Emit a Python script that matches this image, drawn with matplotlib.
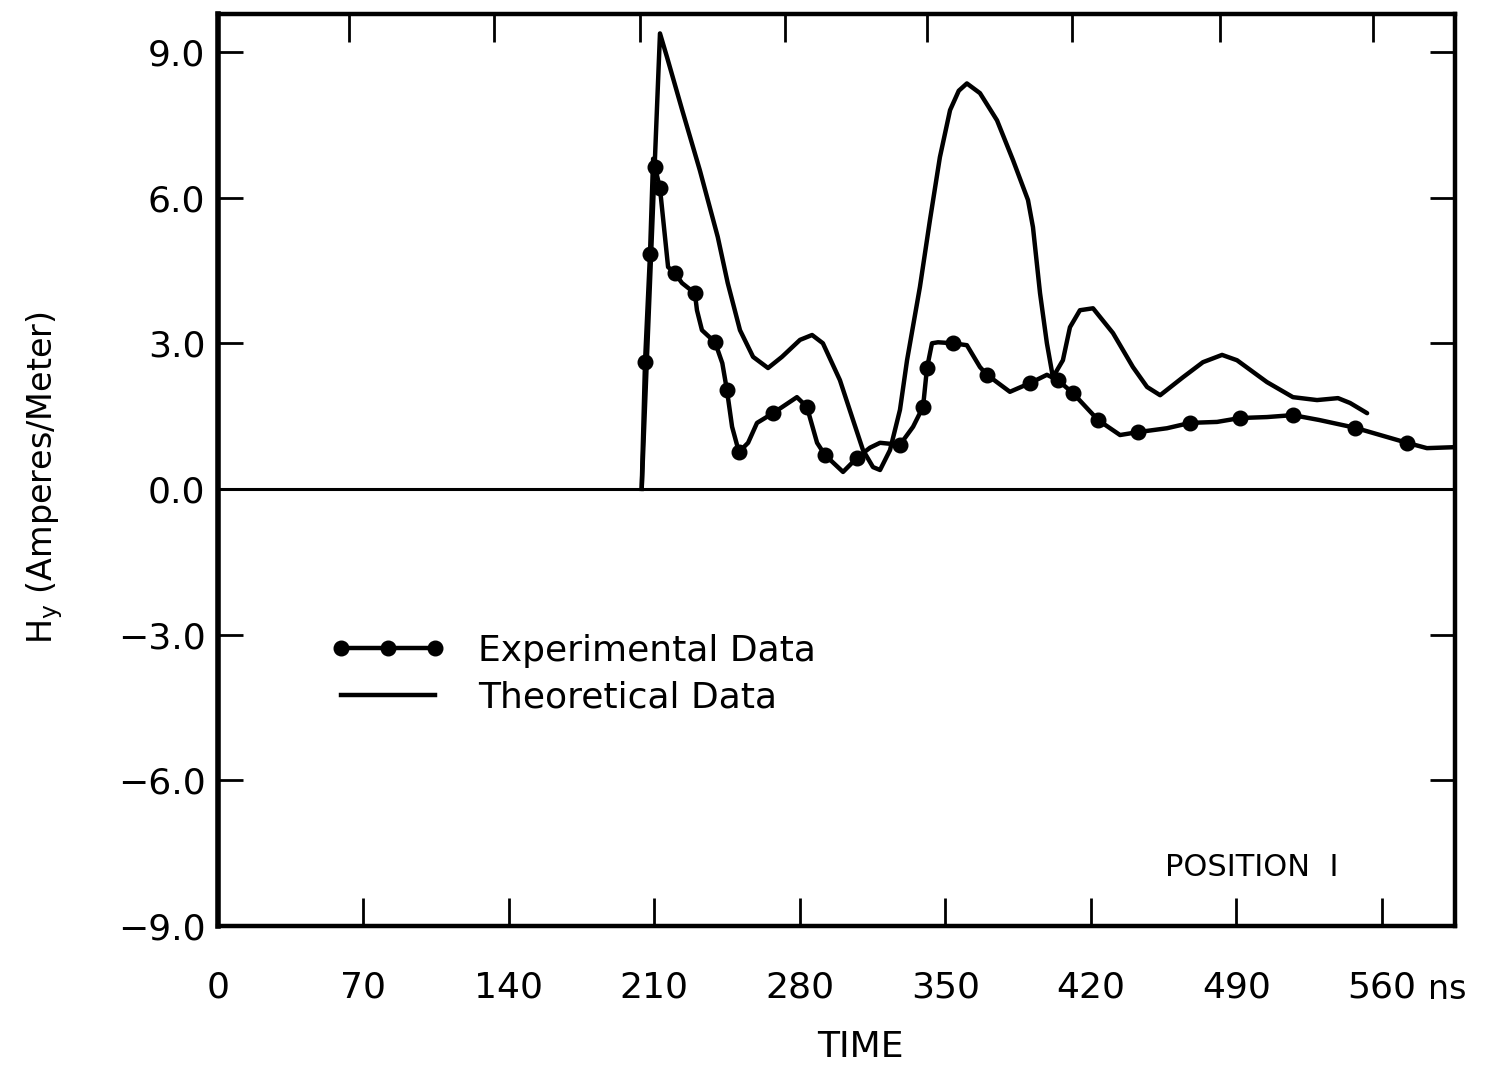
import matplotlib
matplotlib.use("Agg")
import matplotlib.pyplot as plt
from matplotlib.lines import Line2D

plt.rcParams['font.family'] = ['DejaVu Sans']

# ---------------- data ----------------
exp_t = [203.9, 205.5, 207.9, 209.4, 210.3, 212.7, 216.6, 219.9, 223.3, 229.5,
         230.5, 232.9, 239.2, 242.7, 244.9, 247.4, 250.7, 255.1, 259.4, 267.1,
         278.6, 283.4, 288.3, 292.1, 300.8, 307.5, 313.8, 318.6, 328.2, 334.5,
         339.3, 341.2, 343.6, 346.5, 353.7, 360.4, 366.7, 370.1, 381.1, 390.8,
         398.9, 404.2, 411.5, 423.5, 434.1, 442.7, 456.7, 467.8, 480.8, 491.8,
         504.8, 517.3, 529.9, 547.2, 572.2, 581.8, 595.0]
exp_h = [0.0, 2.61, 4.84, 6.80, 6.63, 6.19, 4.57, 4.44, 4.24, 4.03,
         3.68, 3.27, 3.02, 2.59, 2.04, 1.28, 0.76, 0.95, 1.36, 1.56,
         1.89, 1.69, 0.95, 0.70, 0.35, 0.64, 0.85, 0.95, 0.91, 1.28,
         1.69, 2.49, 3.00, 3.02, 3.00, 2.96, 2.51, 2.35, 2.00, 2.18,
         2.35, 2.24, 1.97, 1.42, 1.11, 1.17, 1.25, 1.36, 1.38, 1.46,
         1.48, 1.52, 1.42, 1.26, 0.95, 0.84, 0.86]
exp_marked = [0, 1, 1, 0, 1, 1, 0, 1, 0, 1,
              0, 0, 1, 0, 1, 0, 1, 0, 0, 1,
              0, 1, 0, 1, 0, 1, 0, 0, 1, 0,
              1, 1, 0, 0, 1, 0, 0, 1, 0, 1,
              0, 1, 1, 1, 0, 1, 0, 1, 0, 1,
              0, 1, 0, 1, 1, 0, 0]

theo_t = [203.9, 212.7, 216.1, 223.4, 231.9, 240.5, 245.3, 251.2, 257.5, 264.7,
          271.4, 280.1, 285.9, 291.1, 299.3, 305.6, 310.4, 315.2, 318.6, 323.4,
          328.2, 331.6, 337.8, 342.6, 347.4, 352.3, 356.5, 360.4, 366.7, 374.9,
          382.6, 389.8, 392.2, 395.6, 398.9, 401.8, 406.6, 410.0, 414.8, 421.1,
          430.7, 440.3, 447.1, 453.4, 464.4, 474.0, 483.2, 490.4, 504.8, 517.3,
          528.9, 539.0, 544.8, 553.0]
theo_h = [0.0, 9.38, 8.89, 7.80, 6.56, 5.19, 4.24, 3.27, 2.72, 2.49,
          2.72, 3.07, 3.17, 3.00, 2.24, 1.42, 0.80, 0.45, 0.39, 0.80,
          1.63, 2.65, 4.16, 5.53, 6.83, 7.80, 8.20, 8.35, 8.15, 7.59,
          6.77, 5.95, 5.39, 4.03, 3.00, 2.30, 2.65, 3.33, 3.68, 3.72,
          3.21, 2.51, 2.10, 1.93, 2.30, 2.61, 2.76, 2.65, 2.20, 1.89,
          1.83, 1.87, 1.77, 1.56]

x_ticks = [0, 70, 140, 210, 280, 350, 420, 490, 560]
x_labels = ['0', '70', '140', '210', '280', '350', '420', '490', '560']
top_ticks = [63, 133, 203, 273, 341, 411, 482, 556]
y_ticks = [-9, -6, -3, 0, 3, 6, 9]
y_labels = ['\u22129.0', '\u22126.0', '\u22123.0', '0.0', '3.0', '6.0', '9.0']

# ---------------- figure ----------------
W, H = 1490, 1068
fig = plt.figure(figsize=(W / 100, H / 100), dpi=100)
ax = fig.add_axes([218 / W, 1 - 926 / H, (1455 - 218) / W, (926 - 14) / H])
ax.set_xlim(0, 595.3)
ax.set_ylim(-9, 9.78)

lw = 3.2
ax.axhline(0, color='black', lw=2.2, zorder=1)
ax.plot(theo_t, theo_h, color='black', lw=lw, solid_joinstyle='round',
        solid_capstyle='round', zorder=2)
marks = [i for i, m in enumerate(exp_marked) if m]
ax.plot(exp_t, exp_h, color='black', lw=lw, marker='o', markersize=10.5,
        markevery=marks, solid_joinstyle='round', zorder=3)

for s in ax.spines.values():
    s.set_linewidth(3.2)
ax.spines['left'].set_linewidth(4)

ax.set_xticks(x_ticks)
ax.set_xticklabels(x_labels)
ax.set_yticks(y_ticks)
ax.set_yticklabels(y_labels)
ax.tick_params(axis='x', direction='in', length=20, width=2, labelsize=26,
               pad=32, bottom=True, top=False)
ax.tick_params(axis='y', direction='in', length=18, width=2, labelsize=26,
               pad=9, left=True, right=True)

# top ticks (drawn slightly offset in the original)
axt = ax.twiny()
axt.set_xlim(ax.get_xlim())
axt.set_xticks(top_ticks)
axt.tick_params(axis='x', direction='in', length=20, width=2, labeltop=False)
for s in axt.spines.values():
    s.set_visible(False)

# axis labels
fig.text(45 / W, 1 - 478 / H, r'$\mathregular{H_y}$ (Amperes/Meter)', rotation=90,
         ha='center', va='center', fontsize=24)
fig.text(860 / W, 1 - 1047 / H, 'TIME', ha='center', va='center', fontsize=26)
fig.text(1428 / W, 1 - 999 / H, 'ns', ha='left', va='baseline', fontsize=24)

ax.text((1165 - 218) / 1237, (926 - 868) / 912, 'POSITION  I',
        transform=ax.transAxes, ha='left', va='center', fontsize=22)

handles = [Line2D([], [], color='black', lw=lw, marker='o', markersize=10.5),
           Line2D([], [], color='black', lw=lw)]
ax.legend(handles, ['Experimental Data', 'Theoretical Data'], numpoints=3,
          loc='upper left', bbox_to_anchor=((330 - 218) / 1237, (926 - 634) / 912),
          frameon=False, fontsize=26, handlelength=3.2, handletextpad=0.9,
          labelspacing=0.35, borderpad=0, borderaxespad=0)

fig.savefig('out.png', dpi=100)
